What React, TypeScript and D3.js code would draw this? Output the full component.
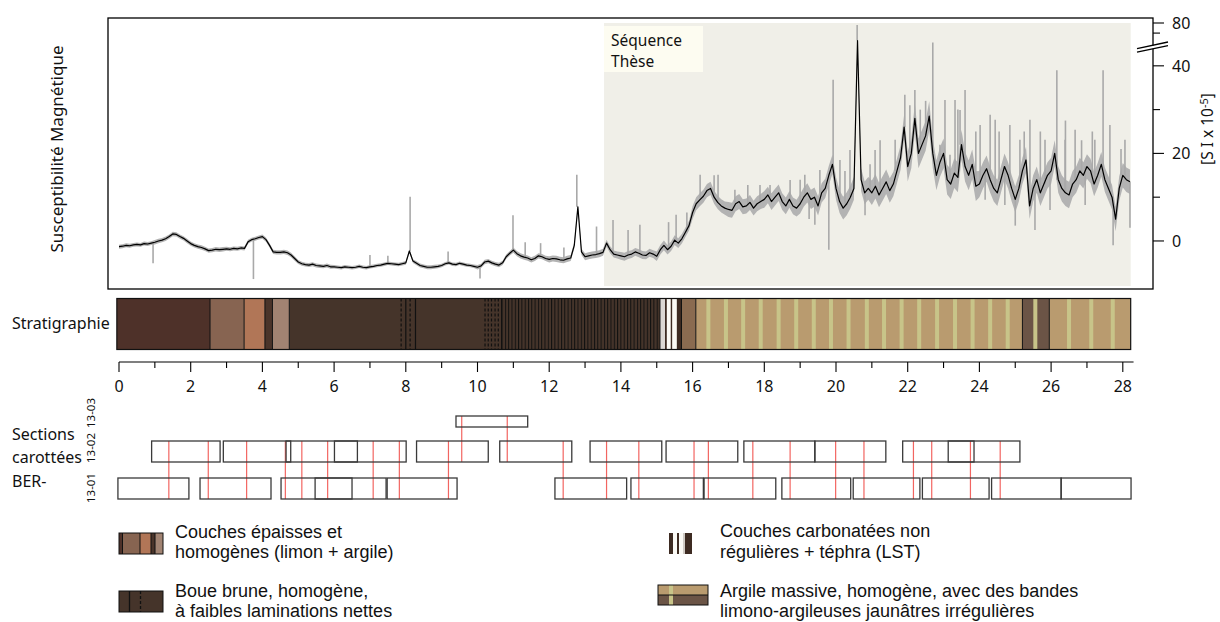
import React from "react";
import * as d3 from "d3";

// magnetic susceptibility, smoothed (black), one value every 0.1 m from 0 to 28.2 m
const msSmooth = [
  -1.3, -1.2, -1.0, -1.1, -0.9, -0.8, -0.9, -0.6, -0.7, -0.5,
  -0.3, 0.0, 0.2, 0.5, 1.0, 1.6, 1.5, 1.0, 0.6, 0.0,
  -0.6, -1.0, -1.3, -1.5, -1.8, -2.2, -2.1, -1.9, -2.0, -1.9,
  -1.8, -1.9, -1.7, -1.8, -1.6, -1.7, -0.2, 0.3, 0.5, 0.8,
  1.0, 0.3, -1.0, -2.5, -2.6, -2.6, -2.5, -2.7, -3.2, -4.0,
  -4.8, -5.2, -5.4, -5.5, -5.3, -5.6, -5.7, -5.8, -5.6, -5.9,
  -5.9, -6.0, -6.1, -5.9, -6.0, -6.1, -6.0, -5.8, -6.0, -6.1,
  -5.9, -5.8, -5.6, -5.5, -5.3, -5.1, -5.2, -5.3, -5.4, -5.2,
  -5.0, -2.3, -4.6, -5.1, -5.6, -5.8, -6.0, -6.0, -5.9, -5.8,
  -5.6, -5.2, -5.0, -5.3, -5.4, -5.1, -5.3, -5.5, -5.6, -5.8,
  -6.0, -5.7, -4.8, -4.6, -5.0, -5.3, -5.5, -5.0, -3.6, -2.8,
  -2.1, -2.9, -3.4, -3.7, -3.9, -4.3, -4.0, -3.4, -3.6, -4.0,
  -4.2, -4.0, -4.1, -4.3, -4.4, -4.1, -3.9, -1.0, 7.8, -2.5,
  -3.6, -3.4, -3.2, -3.1, -2.9, -2.6, -0.5, -2.0, -3.0, -3.2,
  -3.4, -3.6, -3.2, -3.0, -2.5, -2.8, -3.2, -3.3, -2.7, -3.0,
  -3.5, -2.0, -1.0, -2.0, -1.2, 0.2, -0.5, 0.5, 2.0, 3.5,
  6.5, 8.5, 9.4, 10.2, 11.5, 12.0, 10.0, 8.8, 8.0, 7.5,
  7.2, 7.0, 8.5, 9.0, 7.8, 8.0, 8.8, 7.5, 8.5, 9.0,
  9.5, 10.5, 9.0, 10.0, 11.0, 9.0, 8.0, 9.5, 8.0, 7.5,
  8.5, 10.0, 11.0, 9.5, 10.0, 8.0, 11.0, 12.0, 15.0, 17.5,
  12.0, 9.0, 7.5, 8.5, 10.0, 12.0, 54.0, 14.0, 11.0, 12.0,
  11.0, 12.5, 10.5, 12.0, 13.5, 11.5, 13.0, 16.0, 19.0, 26.0,
  17.0, 20.0, 28.0, 20.0, 22.0, 24.0, 28.5, 20.0, 15.0, 18.0,
  20.0, 14.0, 13.0, 15.5, 14.5, 22.0, 17.0, 15.0, 17.5, 12.5,
  13.0, 15.0, 16.5, 14.0, 12.0, 11.0, 14.0, 17.0, 15.0, 12.0,
  9.5, 12.0, 16.0, 18.5, 8.0, 12.0, 14.0, 11.0, 13.0, 15.0,
  16.0, 20.0, 14.0, 12.0, 11.0, 10.5, 13.0, 14.0, 16.0, 15.0,
  17.0, 16.0, 13.0, 15.0, 17.5, 14.0, 12.0, 10.0, 5.0, 12.0,
  15.0, 14.0, 13.5,
];
// half width of the raw (grey) noise band, one value per metre
const msSpread = [0.45, 0.5, 0.5, 0.45, 0.5, 0.45, 0.4, 0.4, 0.45, 0.4, 0.5, 0.6, 0.7, 0.8, 0.9, 1.1, 1.5, 1.7, 1.9, 2.2, 2.6, 2.8, 3.4, 3.4, 3.0, 3.0, 3.0, 2.8, 2.8];
// raw spikes [depth m, value]
const msSpikes = [
  [0.95, -5.1], [3.75, -8.7], [7.0, -3.2], [7.5, -3.4], [8.12, 10.1], [9.18, -2.4], [10.07, -8.6],
  [10.99, 5.9], [11.33, -0.3], [11.76, -0.5], [12.41, -1.5], [12.77, 15.1], [13.32, 3.3], [13.78, 4.8],
  [14.2, 2.5], [14.53, 3.7], [15.33, 4.3], [15.54, 6.0], [15.84, 6.5], [16.21, 15.1], [16.6, 15.0],
  [16.71, 15.1], [17.18, 11.7], [17.54, 12.8], [17.88, 12.8], [18.16, 12.8], [18.72, 13.9], [19.0, 14.0],
  [19.13, 15.1], [19.25, 5.0], [19.41, 3.7], [19.55, 16.2], [19.8, -2.0], [19.92, 36.8], [20.11, 18.5],
  [20.25, 16.0], [20.39, 20.8], [20.59, 77], [20.81, 5.9], [20.95, 17.5], [21.09, 20.8], [21.23, 23.0],
  [21.56, 12.5], [21.65, 23.1], [21.92, 33.4], [22.06, 31.0], [22.2, 34.5], [22.35, 30.0], [22.5, 32.0],
  [22.7, 51], [22.9, 22], [23.04, 32.2], [23.18, 19.7], [23.32, 32.2], [23.4, 30], [23.46, 29.9],
  [23.6, 34.5], [23.9, 25], [24.02, 26.5], [24.16, 9.4], [24.3, 28.8], [24.44, 27.7], [24.55, 25],
  [24.71, 8.2], [24.85, 26.5], [25.0, 3.5], [25.13, 23.1], [25.25, 25], [25.41, 27.7], [25.55, 2.5],
  [25.7, 25], [25.83, 23.1], [25.97, 7.1], [26.16, 39.0], [26.39, 23.1], [26.4, 27.5], [26.67, 25.4],
  [26.85, 23], [26.95, 8.2], [27.15, 25], [27.22, 23.1], [27.45, 39.0], [27.64, 26.5], [27.73, -1.0],
  [27.95, 21], [28.06, 23.1], [28.2, 3.0],
];

const seqRange = [13.53, 28.22];

// stratigraphy units (depth bounds) and their kind
const stratBounds = [-0.06, 2.54, 3.49, 4.07, 4.28, 4.75, 10.67, 15.09, 15.69, 16.09, 25.2, 25.95, 28.22];
const stratKinds = ["redBrown", "silt", "terra", "darkBand", "lightSilt", "mud", "laminated", "carbonate", "brown", "clay", "darkClay", "clay"];
const solidMarks = [8.0, 8.27];
const dashedMarks = [7.87, 8.12, 10.21, 10.3, 10.39, 10.49, 10.58];
const carbonateBands = [[15.09, 15.23], [15.28, 15.39], [15.43, 15.56]];
const yellowBands = [16.44, 16.93, 17.41, 17.9, 18.4, 18.89, 19.38, 19.86, 20.35, 20.86, 21.34, 21.83, 22.32, 22.82, 23.32, 23.81, 24.3, 24.79, 25.56, 26.5, 27.12, 27.72];

// core sections BER-13-0x [top, bottom] depth
const core01 = [[-0.03, 1.95], [2.26, 4.24], [4.52, 6.5], [5.47, 7.45], [7.48, 9.43], [12.16, 14.16], [14.28, 16.3], [16.32, 18.32], [18.49, 20.41], [20.48, 22.34], [22.41, 24.27], [24.34, 26.28], [26.28, 28.23]];
const core02 = [[0.91, 2.82], [2.91, 4.79], [4.66, 6.65], [6.01, 8.01], [8.3, 10.3], [10.62, 12.63], [13.14, 15.14], [15.26, 17.26], [17.43, 19.41], [19.41, 21.39], [21.86, 23.85], [23.13, 25.13]];
const core03 = [[9.4, 11.4]];
const tiesLow = [1.39, 2.49, 3.56, 4.64, 5.1, 5.82, 7.09, 7.82, 9.19, 12.39, 13.6, 14.5, 16.04, 16.44, 17.68, 18.72, 19.99, 20.78, 22.16, 22.67, 23.75, 24.58];
const tiesHigh = [9.56, 10.83];

const depthTicks = d3.range(0, 29, 1);
const msMajorTicks = [0, 20, 40, 80];
const msMinorTicks = [10, 30, 65];

const kindFill: Record<string, string> = {
  redBrown: "#4e3129",
  silt: "#876451",
  terra: "#b17657",
  darkBand: "#4a342a",
  lightSilt: "#a18372",
  mud: "#45342a",
  laminated: "url(#lamin)",
  carbonate: "#3d2b22",
  brown: "#8a6b50",
  clay: "#b99b6f",
  darkClay: "#6b5446",
};

const SANS = "'Noto Sans', sans-serif";
const ARIAL = "'Liberation Sans', Arial, sans-serif";

export default function App() {
  const x = d3.scaleLinear().domain([0, 28]).range([119, 1122.8]);
  const y = d3.scaleLinear().domain([-10.8, 44.3, 80]).range([288.25, 47, 23]);

  const pts: [number, number][] = msSmooth.map((v, i) => [i / 10, v]);
  const spreadAt = (d: number) => msSpread[Math.min(msSpread.length - 1, Math.floor(d))];
  const smoothAt = (d: number) => msSmooth[Math.min(msSmooth.length - 1, Math.round(d * 10))];

  const line = d3.line<[number, number]>().x((d) => x(d[0])).y((d) => y(d[1]));
  const band = d3
    .area<[number, number]>()
    .x((d) => x(d[0]))
    .y0((d) => y(d[1] - spreadAt(d[0])))
    .y1((d) => y(d[1] + spreadAt(d[0])));

  const frame = { l: 108, r: 1153, t: 18, b: 289 };
  const strat = { t: 298.5, b: 349.5 };
  const axisY = 362;
  const rows: Record<string, [number, number]> = {
    "13-03": [416, 427],
    "13-02": [441, 462],
    "13-01": [478, 499],
  };

  const boxes = (list: number[][], row: string, key: string) =>
    list.map((c, i) => (
      <rect
        key={key + i}
        x={x(c[0])}
        y={rows[row][0]}
        width={x(c[1]) - x(c[0])}
        height={rows[row][1] - rows[row][0]}
        fill="none"
        stroke="#3a3a3a"
        strokeWidth={1.3}
      />
    ));

  return (
    <svg width={1220} height={622} style={{ display: "block", position: "absolute", left: 0, top: 0, background: "#fff" }}>
      <defs>
        <pattern id="lamin" patternUnits="userSpaceOnUse" width={3.3} height={10}>
          <rect width={3.3} height={10} fill="#45342a" />
          <rect x={0} width={1} height={10} fill="#111" />
        </pattern>
        <clipPath id="plotClip">
          <rect x={frame.l} y={frame.t} width={frame.r - frame.l} height={frame.b - frame.t} />
        </clipPath>
      </defs>

      {/* susceptibility panel */}
      <rect x={x(seqRange[0])} y={23} width={x(seqRange[1]) - x(seqRange[0])} height={263} fill="#f0efe8" />
      <rect x={x(seqRange[0])} y={26} width={99} height={46} fill="#fdfcf1" />
      <text x={x(seqRange[0]) + 7} y={46} fontFamily={SANS} fontSize={15.5} fill="#111">Séquence</text>
      <text x={x(seqRange[0]) + 7} y={67} fontFamily={SANS} fontSize={15.5} fill="#111">Thèse</text>

      <g clipPath="url(#plotClip)">
        <path d={band(pts) || ""} fill="#b3b3b3" />
        {msSpikes.map((s, i) => (
          <line key={"sp" + i} x1={x(s[0])} x2={x(s[0])} y1={y(smoothAt(s[0]))} y2={y(s[1])} stroke="#a9a9a9" strokeWidth={1.6} />
        ))}
        <path d={line(pts) || ""} fill="none" stroke="#000" strokeWidth={1.2} strokeLinejoin="round" />
      </g>
      <rect x={frame.l} y={frame.t} width={frame.r - frame.l} height={frame.b - frame.t} fill="none" stroke="#000" strokeWidth={1.3} />

      {/* right axis */}
      {msMajorTicks.map((t) => (
        <g key={"mt" + t}>
          <line x1={frame.r} x2={frame.r + 11} y1={y(t)} y2={y(t)} stroke="#000" strokeWidth={1.1} />
          <text x={frame.r + 19} y={y(t)} dominantBaseline="central" fontFamily={SANS} fontSize={16} fill="#111">{t}</text>
        </g>
      ))}
      {msMinorTicks.map((t) => (
        <line key={"mn" + t} x1={frame.r} x2={frame.r + 7} y1={y(t)} y2={y(t)} stroke="#000" strokeWidth={1.1} />
      ))}
      <polygon points="1137,49 1168,42.5 1168,45.5 1137,52" fill="#fff" />
      <line x1={1137} y1={48.6} x2={1168} y2={42} stroke="#000" strokeWidth={1.3} />
      <line x1={1137} y1={52.2} x2={1168} y2={45.6} stroke="#000" strokeWidth={1.3} />

      <text transform="translate(1213,129) rotate(-90)" textAnchor="middle" fontFamily={SANS} fontSize={15.5} fill="#111">
        [S I x 10<tspan dy={-5} fontSize={11}>-5</tspan><tspan dy={5}>]</tspan>
      </text>
      <text transform="translate(63,149) rotate(-90)" textAnchor="middle" fontFamily={SANS} fontSize={17} fill="#111">
        Susceptibilité Magnétique
      </text>

      {/* stratigraphy */}
      <text x={12} y={329} fontFamily={SANS} fontSize={16} fill="#111">Stratigraphie</text>
      {stratKinds.map((k, i) => (
        <rect key={"st" + i} x={x(stratBounds[i])} y={strat.t} width={x(stratBounds[i + 1]) - x(stratBounds[i])} height={strat.b - strat.t} fill={kindFill[k]} />
      ))}
      {carbonateBands.map((b, i) => (
        <rect key={"cb" + i} x={x(b[0])} y={strat.t} width={x(b[1]) - x(b[0])} height={strat.b - strat.t} fill={i === 0 ? "#dcd8d4" : "#fbfaf5"} />
      ))}
      {yellowBands.map((d, i) => (
        <rect key={"yb" + i} x={x(d) - 2} y={strat.t} width={4} height={strat.b - strat.t} fill="#c8c489" />
      ))}
      {stratBounds.slice(1, -1).map((d, i) => (
        <line key={"sb" + i} x1={x(d)} x2={x(d)} y1={strat.t} y2={strat.b} stroke="#111" strokeWidth={1} />
      ))}
      {solidMarks.map((d, i) => (
        <line key={"sm" + i} x1={x(d)} x2={x(d)} y1={strat.t} y2={strat.b} stroke="#111" strokeWidth={1.2} />
      ))}
      {dashedMarks.map((d, i) => (
        <line key={"dm" + i} x1={x(d)} x2={x(d)} y1={strat.t} y2={strat.b} stroke="#111" strokeWidth={1.2} strokeDasharray="3,2" />
      ))}
      <rect x={x(stratBounds[0])} y={strat.t} width={x(stratBounds[stratBounds.length - 1]) - x(stratBounds[0])} height={strat.b - strat.t} fill="none" stroke="#111" strokeWidth={1.2} />

      {/* depth axis */}
      <line x1={x(0)} x2={x(28.3)} y1={axisY} y2={axisY} stroke="#000" strokeWidth={1.1} />
      {depthTicks.map((t) => (
        <g key={"dt" + t}>
          <line x1={x(t)} x2={x(t)} y1={axisY} y2={axisY + (t % 2 === 0 ? 10 : 6)} stroke="#000" strokeWidth={1.1} />
          {t % 2 === 0 && (
            <text x={x(t)} y={392} textAnchor="middle" fontFamily={SANS} fontSize={16} fill="#111">{t}</text>
          )}
        </g>
      ))}

      {/* core sections */}
      <text x={12} y={440} fontFamily={SANS} fontSize={16} fill="#111">Sections</text>
      <text x={12} y={463} fontFamily={SANS} fontSize={16} fill="#111">carottées</text>
      <text x={12} y={487} fontFamily={SANS} fontSize={16} fill="#111">BER-</text>
      {[["13-03", 413], ["13-02", 448], ["13-01", 488]].map(([lab, cy]) => (
        <text key={lab as string} transform={`translate(95,${cy}) rotate(-90)`} textAnchor="middle" fontFamily={SANS} fontSize={11.5} fill="#111">{lab}</text>
      ))}
      {tiesLow.map((d, i) => (
        <line key={"tl" + i} x1={x(d)} x2={x(d)} y1={rows["13-02"][0]} y2={rows["13-01"][1]} stroke="#f04a45" strokeOpacity={0.85} strokeWidth={1.2} />
      ))}
      {tiesHigh.map((d, i) => (
        <line key={"th" + i} x1={x(d)} x2={x(d)} y1={rows["13-03"][0]} y2={rows["13-02"][1]} stroke="#f04a45" strokeOpacity={0.85} strokeWidth={1.2} />
      ))}
      {boxes(core03, "13-03", "c3")}
      {boxes(core02, "13-02", "c2")}
      {boxes(core01, "13-01", "c1")}

      {/* legend */}
      <g>
        <rect x={119} y={533} width={44} height={21} fill="#876451" />
        <rect x={119} y={533} width={3.5} height={21} fill="#4e3129" />
        <rect x={140} y={533} width={11} height={21} fill="#b17657" />
        <rect x={151} y={533} width={4} height={21} fill="#4a342a" />
        <rect x={155} y={533} width={8} height={21} fill="#a18372" />
        {[122.5, 140, 151, 155].map((lx) => (
          <line key={"l1" + lx} x1={lx} x2={lx} y1={533} y2={554} stroke="#111" strokeWidth={1} />
        ))}
        <rect x={119} y={533} width={44} height={21} fill="none" stroke="#111" strokeWidth={1} />
        <text x={175} y={538} fontFamily={ARIAL} fontSize={18} fill="#111">Couches épaisses et</text>
        <text x={175} y={558} fontFamily={ARIAL} fontSize={18} fill="#111">homogènes (limon + argile)</text>

        <rect x={119} y={591} width={44} height={21} fill="#45342a" stroke="#111" strokeWidth={1} />
        <line x1={129.5} x2={129.5} y1={591} y2={612} stroke="#111" strokeWidth={1.3} />
        <line x1={140.5} x2={140.5} y1={591} y2={612} stroke="#111" strokeWidth={1.3} strokeDasharray="3,2" />
        <text x={175} y={597} fontFamily={ARIAL} fontSize={18} fill="#111">Boue brune, homogène,</text>
        <text x={175} y={617} fontFamily={ARIAL} fontSize={18} fill="#111">à faibles laminations nettes</text>

        <rect x={669} y={533} width={23} height={21} fill="#3d2b22" />
        <rect x={673} y={533} width={4} height={21} fill="#fbfaf5" />
        <rect x={679} y={533} width={4} height={21} fill="#fbfaf5" />
        <rect x={683} y={533} width={2} height={21} fill="#cfcac4" />
        <text x={720} y={537} fontFamily={ARIAL} fontSize={18} fill="#111">Couches carbonatées non</text>
        <text x={720} y={558} fontFamily={ARIAL} fontSize={18} fill="#111">régulières + téphra (LST)</text>

        <rect x={658} y={585} width={50} height={10} fill="#b99b6f" />
        <rect x={658} y={595} width={50} height={10} fill="#6b5446" />
        <rect x={669} y={585} width={4} height={20} fill="#c8c489" />
        <line x1={658} x2={708} y1={595} y2={595} stroke="#111" strokeWidth={1} />
        <rect x={658} y={585} width={50} height={20} fill="none" stroke="#111" strokeWidth={1} />
        <text x={720} y={597} fontFamily={ARIAL} fontSize={18} fill="#111">Argile massive, homogène, avec des bandes</text>
        <text x={720} y={617} fontFamily={ARIAL} fontSize={18} fill="#111">limono-argileuses jaunâtres irrégulières</text>
      </g>
    </svg>
  );
}
